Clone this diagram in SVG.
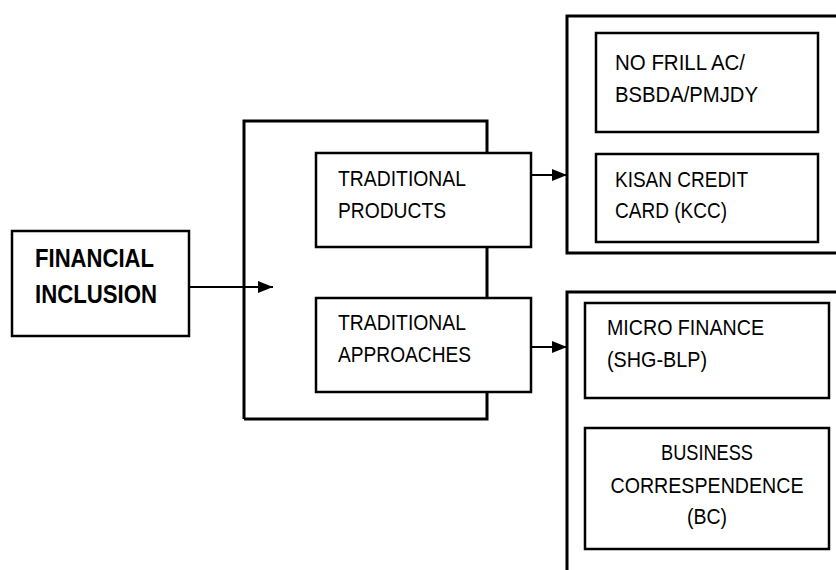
<svg xmlns="http://www.w3.org/2000/svg" width="836" height="570" viewBox="0 0 836 570">
<style>
.box{fill:#fff;stroke:#000;stroke-width:2.5}
.con{fill:none;stroke:#000;stroke-width:3}
.ln{fill:none;stroke:#000;stroke-width:2}
text{font-family:"Liberation Sans",Arial,sans-serif;font-size:22px;fill:#000}
.b{font-weight:bold;font-size:26px}
</style>
<defs>
<marker id="ah" markerWidth="16" markerHeight="12" refX="15" refY="6" orient="auto" markerUnits="userSpaceOnUse">
<path d="M0,0 L15,6 L0,12 Z" fill="#000"/>
</marker>
</defs>
<rect width="836" height="570" fill="#fff"/>
<g id="connectors">
<path class="con" d="M244,419 V121 H487 V153 M487,247 V298 M487,392 V419 H244"/>
<line class="ln" x1="189" y1="287" x2="273" y2="287" marker-end="url(#ah)"/>
<line class="ln" x1="531" y1="175" x2="567" y2="175" marker-end="url(#ah)"/>
<line class="ln" x1="531" y1="347" x2="567" y2="347" marker-end="url(#ah)"/>
</g>
<g id="financial-inclusion">
<rect class="box" x="12" y="231" width="177" height="105"/>
<text class="b" x="35" y="267" textLength="119" lengthAdjust="spacingAndGlyphs">FINANCIAL</text>
<text class="b" x="35" y="303" textLength="122" lengthAdjust="spacingAndGlyphs">INCLUSION</text>
</g>
<g id="traditional-products">
<rect class="box" x="316" y="153" width="215" height="94"/>
<text x="338" y="186" textLength="128" lengthAdjust="spacingAndGlyphs">TRADITIONAL</text>
<text x="338" y="218" textLength="108" lengthAdjust="spacingAndGlyphs">PRODUCTS</text>
</g>
<g id="traditional-approaches">
<rect class="box" x="316" y="298" width="215" height="94"/>
<text x="338" y="330" textLength="128" lengthAdjust="spacingAndGlyphs">TRADITIONAL</text>
<text x="338" y="362" textLength="133" lengthAdjust="spacingAndGlyphs">APPROACHES</text>
</g>
<g id="products-group">
<path class="con" d="M840,16 H567 V253 H840"/>
</g>
<g id="no-frill">
<rect class="box" x="596" y="33" width="222" height="99"/>
<text x="615" y="70" textLength="130" lengthAdjust="spacingAndGlyphs">NO FRILL AC/</text>
<text x="615" y="102" textLength="143" lengthAdjust="spacingAndGlyphs">BSBDA/PMJDY</text>
</g>
<g id="kcc">
<rect class="box" x="596" y="154" width="222" height="88"/>
<text x="615" y="187" textLength="133" lengthAdjust="spacingAndGlyphs">KISAN CREDIT</text>
<text x="615" y="218" textLength="112" lengthAdjust="spacingAndGlyphs">CARD (KCC)</text>
</g>
<g id="approaches-group">
<path class="con" d="M840,292 H567 V572"/>
</g>
<g id="micro-finance">
<rect class="box" x="585" y="303" width="244" height="95"/>
<text x="607" y="335" textLength="157" lengthAdjust="spacingAndGlyphs">MICRO FINANCE</text>
<text x="607" y="367" textLength="100" lengthAdjust="spacingAndGlyphs">(SHG-BLP)</text>
</g>
<g id="business-correspondence">
<rect class="box" x="585" y="428" width="244" height="121"/>
<text x="707" y="460" text-anchor="middle" textLength="92" lengthAdjust="spacingAndGlyphs">BUSINESS</text>
<text x="707" y="493" text-anchor="middle" textLength="193" lengthAdjust="spacingAndGlyphs">CORRESPENDENCE</text>
<text x="707" y="524" text-anchor="middle" textLength="40" lengthAdjust="spacingAndGlyphs">(BC)</text>
</g>
</svg>
